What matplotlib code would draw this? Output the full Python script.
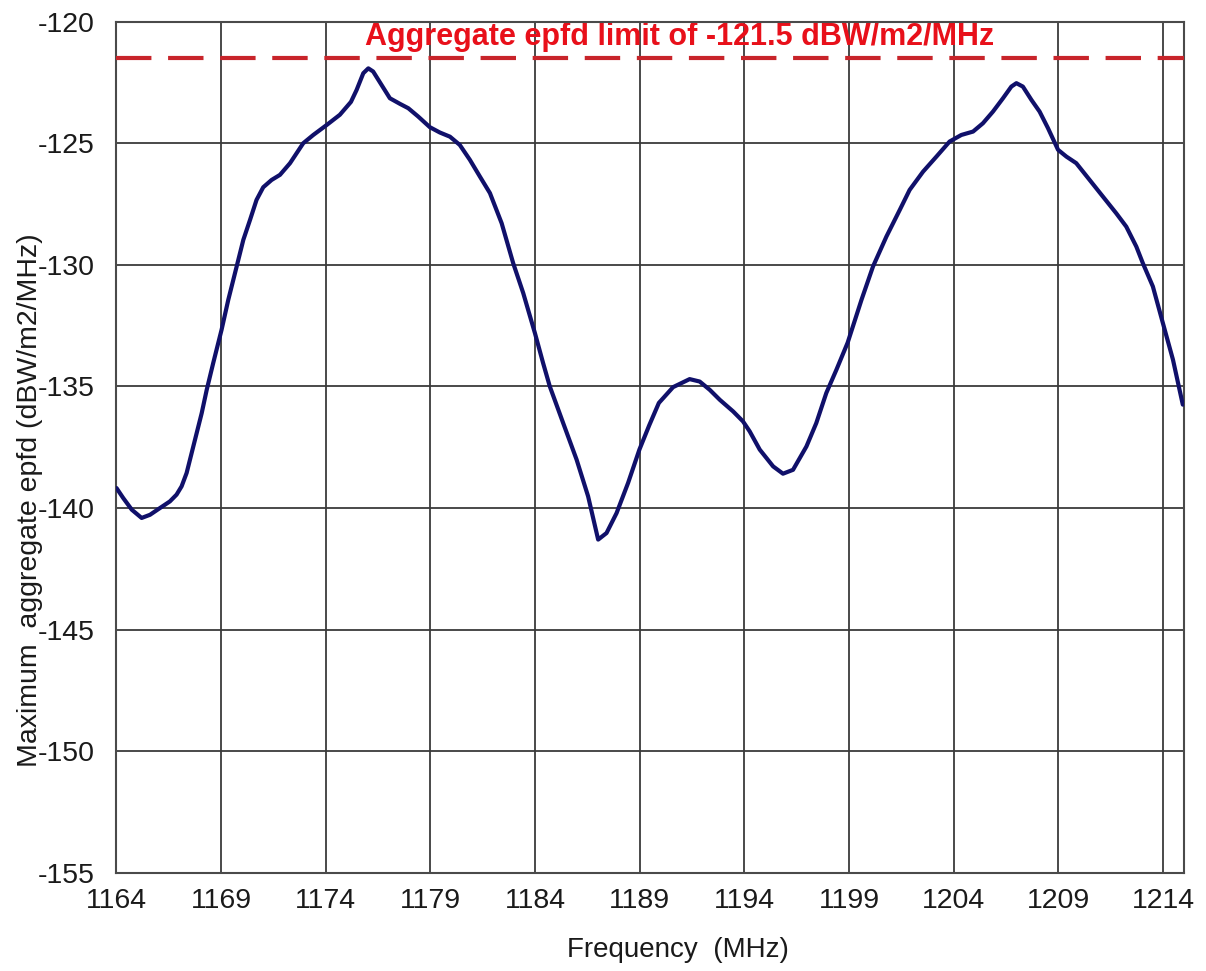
import numpy as np
import matplotlib
matplotlib.use("Agg")
import matplotlib.pyplot as plt

plt.rcParams['font.family'] = ['Liberation Sans', 'DejaVu Sans']
plt.rcParams['axes.unicode_minus'] = False

# frequency (MHz) and max aggregate epfd (dBW/m2/MHz)
freq = [1164.0, 1164.32, 1164.73, 1165.2, 1165.6, 1166.08, 1166.55, 1166.87, 1167.11,
        1167.35, 1167.59, 1167.83, 1168.07, 1168.31, 1168.62, 1169.02, 1169.34, 1169.74,
        1170.06, 1170.38, 1170.69, 1171.01, 1171.41, 1171.81, 1172.29, 1172.92, 1173.4,
        1174.04, 1174.67, 1175.2, 1175.47, 1175.79, 1176.03, 1176.26, 1176.66, 1177.06,
        1177.54, 1177.94, 1178.41, 1178.97, 1179.45, 1179.93, 1180.4, 1180.88, 1181.36,
        1181.84, 1182.4, 1182.95, 1183.43, 1183.99, 1184.38, 1184.7, 1185.34, 1185.98,
        1186.53, 1187.01, 1187.41, 1187.89, 1188.44, 1188.98, 1189.45, 1189.91, 1190.59,
        1191.38, 1191.86, 1192.34, 1192.82, 1193.46, 1193.93, 1194.25, 1194.73, 1195.37,
        1195.84, 1196.32, 1196.96, 1197.43, 1197.91, 1198.39, 1198.93, 1199.59, 1200.14,
        1200.78, 1201.42, 1201.89, 1202.53, 1203.17, 1203.8, 1204.36, 1204.92, 1205.39,
        1205.87, 1206.35, 1206.75, 1206.99, 1207.3, 1207.71, 1208.1, 1208.5, 1208.98,
        1209.38, 1209.85, 1210.49, 1211.12, 1211.76, 1212.24, 1212.72, 1213.03, 1213.51,
        1213.99, 1214.47, 1214.94]
epfd = [-139.18, -139.59, -140.07, -140.41, -140.28, -140.0, -139.73, -139.45, -139.11,
        -138.56, -137.74, -136.92, -136.1, -135.14, -134.04, -132.67, -131.44, -130.07,
        -128.97, -128.15, -127.33, -126.81, -126.51, -126.3, -125.82, -125.0, -124.66,
        -124.25, -123.83, -123.3, -122.81, -122.12, -121.92, -122.05, -122.6, -123.15,
        -123.38, -123.56, -123.9, -124.34, -124.56, -124.73, -125.07, -125.68, -126.37,
        -127.05, -128.29, -129.93, -131.16, -132.81, -134.04, -135.0, -136.51, -138.01,
        -139.52, -141.3, -141.03, -140.21, -138.97, -137.6, -136.6, -135.68, -135.03,
        -134.7, -134.8, -135.14, -135.55, -136.03, -136.44, -136.85, -137.6, -138.29,
        -138.59, -138.43, -137.47, -136.51, -135.27, -134.32, -133.2, -131.44, -130.07,
        -128.84, -127.74, -126.92, -126.17, -125.55, -124.93, -124.66, -124.52, -124.18,
        -123.7, -123.15, -122.67, -122.53, -122.67, -123.22, -123.7, -124.38, -125.27,
        -125.55, -125.82, -126.51, -127.19, -127.88, -128.43, -129.25, -129.93, -130.89,
        -132.4, -133.9, -135.75]

limit = -121.5
limit_label = "Aggregate epfd limit of -121.5 dBW/m2/MHz"
xticks = list(range(1164, 1215, 5))
yticks = list(range(-155, -119, 5))

fig = plt.figure(figsize=(12.06, 9.71), dpi=100)
ax = fig.add_axes([0.0966, 0.1012, 0.8852, 0.8765])

ax.plot(freq, epfd, color='#10106a', lw=3.0, solid_joinstyle='round',
        solid_capstyle='round', zorder=3)
ax.axhline(limit, color='#c8242a', lw=3.0, dashes=(8.5, 4), zorder=3)
ax.text(1190.9, -120.65, limit_label, color='#e8101a', fontsize=22,
        fontweight='bold', ha='center', va='center', zorder=2)

ax.set_xlim(1164, 1215)
ax.set_ylim(-155, -120)
ax.set_xticks(xticks)
ax.set_yticks(yticks)
ax.grid(True, color='#3a3a3a', lw=1.3, zorder=1)
ax.set_axisbelow(True)
for s in ax.spines.values():
    s.set_color('#4a4a4a')
    s.set_linewidth(1.5)

ax.tick_params(axis='both', length=0, labelsize=20.5, colors='#1a1a1a')
ax.tick_params(axis='x', pad=11)
ax.tick_params(axis='y', pad=16)

ax.set_xlabel("Frequency  (MHz)", fontsize=20, color='#1a1a1a')
ax.xaxis.set_label_coords(0.526, -0.075)
ax.set_ylabel("Maximum  aggregate epfd (dBW/m2/MHz)", fontsize=20.5, color='#1a1a1a')
ax.yaxis.set_label_coords(-0.081, 0.438)
ax.yaxis.label.set_va('center')

fig.savefig('out.png', dpi=100)
